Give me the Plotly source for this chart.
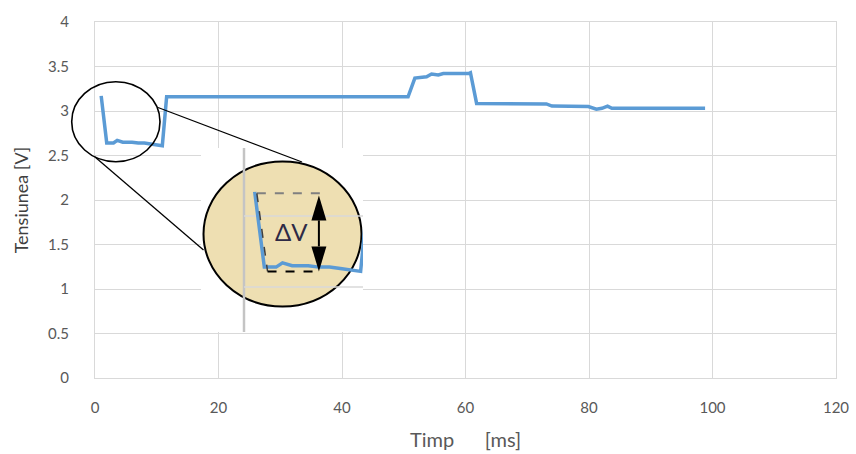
import plotly.graph_objects as go

# Voltage trace (time in ms, voltage in V)
time_ms = [1.0, 1.9, 3.0, 3.6, 4.5, 6.0, 7.0, 8.0, 9.0, 10.0, 10.9, 11.6,
           50.7, 51.8, 53.7, 54.5, 55.6, 56.4, 60.5, 60.8, 61.8,
           73.1, 74.0, 79.9, 81.2, 82.1, 83.0, 83.7, 98.8]
voltage = [3.17, 2.64, 2.64, 2.67, 2.65, 2.65, 2.64, 2.64, 2.63, 2.62, 2.61, 3.16,
           3.16, 3.37, 3.385, 3.415, 3.405, 3.42, 3.42, 3.43, 3.085,
           3.08, 3.055, 3.05, 3.02, 3.03, 3.055, 3.03, 3.03]

x_ticks = [0, 20, 40, 60, 80, 100, 120]
x_labels = ["0", "20", "40", "60", "80", "100", "120"]
y_ticks = [0, 0.5, 1, 1.5, 2, 2.5, 3, 3.5, 4]
y_labels = ["0", "0.5", "1", "1.5", "2", "2.5", "3", "3.5", "4"]

LINE_BLUE = "#5B9BD5"
GRID = "#D9D9D9"
TEXT = "#595959"
TAN = "#EEDFB2"
FONT = "Lato, 'Open Sans', sans-serif"

# figure geometry (pixels)
W, H = 856, 454
ML, MR, MT, MB = 95, 20, 22, 76
PW = W - ML - MR
PH = H - MT - MB


def px(x):
    return (x - ML) / PW


def py(y):
    return (H - MB - y) / PH


# magnified view: pixel <-> inset data units
IX0, ISX = 244.0, 10.7      # pixel of t=0, pixels per ms
IY3, ISY = 216.0, 142.0     # pixel of 3.0 V, pixels per volt


def ix(p):
    return (p - IX0) / ISX


def iy(p):
    return 3.0 + (IY3 - p) / ISY


BOX = dict(left=201, right=363, top=148, bottom=332)

fig = go.Figure()

fig.add_trace(go.Scatter(
    x=time_ms, y=voltage, mode="lines",
    line=dict(color=LINE_BLUE, width=3.5),
    xaxis="x", yaxis="y", showlegend=False, hoverinfo="skip"))

# magnified copy of the same trace
fig.add_trace(go.Scatter(
    x=time_ms, y=voltage, mode="lines",
    line=dict(color=LINE_BLUE, width=3.5),
    xaxis="x2", yaxis="y2", showlegend=False, hoverinfo="skip"))

v_start = voltage[0]
v_low = min(voltage[:11])
t_drop = time_ms[1]
t_arrow = 7.0

shapes = []
# inset background and tan lens
shapes.append(dict(type="rect", xref="x2", yref="y2",
                   x0=ix(BOX["left"]), x1=ix(BOX["right"]),
                   y0=iy(BOX["bottom"]), y1=iy(BOX["top"]),
                   fillcolor="white", line=dict(width=0), layer="below"))
shapes.append(dict(type="circle", xref="x2", yref="y2",
                   x0=ix(203.5), x1=ix(361.5), y0=iy(306.5), y1=iy(161.5),
                   fillcolor=TAN, line=dict(color="black", width=2), layer="below"))
# inset grid
shapes.append(dict(type="line", xref="x2", yref="y2", x0=0, x1=0,
                   y0=iy(BOX["bottom"]), y1=iy(BOX["top"]),
                   line=dict(color="#C4C4C4", width=2.5), layer="between"))
for gv in (3.0, 2.5):
    shapes.append(dict(type="line", xref="x2", yref="y2", x0=0, x1=ix(BOX["right"]),
                       y0=gv, y1=gv, line=dict(color=GRID, width=1.5), layer="between"))
# delta-V guide lines
shapes.append(dict(type="line", xref="x2", yref="y2", x0=time_ms[0] + 0.2, x1=t_arrow + 0.3,
                   y0=v_start - 0.01, y1=v_start - 0.01,
                   line=dict(color="#808080", width=2, dash="dash"), layer="above"))
shapes.append(dict(type="line", xref="x2", yref="y2", x0=time_ms[0] + 0.2, x1=t_drop + 0.3,
                   y0=v_start - 0.01, y1=v_low,
                   line=dict(color="#404040", width=1.5, dash="dash"), layer="above"))
shapes.append(dict(type="line", xref="x2", yref="y2", x0=t_drop + 0.3, x1=t_arrow,
                   y0=v_low, y1=v_low,
                   line=dict(color="black", width=2, dash="dash"), layer="above"))
# double-headed arrow
head_h = 25 / ISY
head_w = 7.5 / ISX
tip_top = v_start - 0.025
tip_bot = v_low
shapes.append(dict(type="line", xref="x2", yref="y2", x0=t_arrow, x1=t_arrow,
                   y0=tip_bot + head_h, y1=tip_top - head_h,
                   line=dict(color="black", width=2), layer="above"))
shapes.append(dict(type="path", xref="x2", yref="y2",
                   path=f"M {t_arrow},{tip_top} L {t_arrow - head_w},{tip_top - head_h} "
                        f"L {t_arrow + head_w},{tip_top - head_h} Z",
                   fillcolor="black", line=dict(width=0), layer="above"))
shapes.append(dict(type="path", xref="x2", yref="y2",
                   path=f"M {t_arrow},{tip_bot} L {t_arrow - head_w},{tip_bot + head_h} "
                        f"L {t_arrow + head_w},{tip_bot + head_h} Z",
                   fillcolor="black", line=dict(width=0), layer="above"))
# small lens on the main trace and its connectors
shapes.append(dict(type="circle", xref="paper", yref="paper",
                   x0=px(71.7), x1=px(160), y0=py(161.7), y1=py(81.7),
                   line=dict(color="black", width=1.6), layer="above"))
shapes.append(dict(type="line", xref="paper", yref="paper",
                   x0=px(158), y0=py(107.5), x1=px(302), y1=py(162),
                   line=dict(color="black", width=1.3), layer="above"))
shapes.append(dict(type="line", xref="paper", yref="paper",
                   x0=px(95), y0=py(157), x1=px(203.5), y1=py(250),
                   line=dict(color="black", width=1.3), layer="above"))

NB = "\u00a0"

fig.update_layout(
    width=W, height=H,
    margin=dict(l=ML, r=MR, t=MT, b=MB, autoexpand=False),
    paper_bgcolor="white", plot_bgcolor="white",
    font=dict(family=FONT, color=TEXT, size=15),
    shapes=shapes,
    xaxis=dict(
        range=[0, 120], tickvals=x_ticks, ticktext=x_labels,
        showgrid=True, gridcolor=GRID, gridwidth=1,
        showline=True, linecolor=GRID, linewidth=1, mirror=True,
        zeroline=False, ticks="", ticklabelstandoff=16,
        tickfont=dict(size=15, color=TEXT),
        title=dict(text="Timp" + NB * 6 + "[ms]", font=dict(size=20, color=TEXT), standoff=17),
    ),
    yaxis=dict(
        range=[0, 4], tickvals=y_ticks, ticktext=y_labels,
        showgrid=True, gridcolor=GRID, gridwidth=1,
        showline=True, linecolor=GRID, linewidth=1, mirror=True,
        zeroline=False, ticks="", ticklabelstandoff=22,
        tickfont=dict(size=15, color=TEXT),
        title=dict(text="Tensiunea [V]", font=dict(size=18, color="#404040"), standoff=14),
    ),
    xaxis2=dict(domain=[px(BOX["left"]), px(BOX["right"])],
                range=[ix(BOX["left"]), ix(BOX["right"])],
                visible=False, anchor="y2"),
    yaxis2=dict(domain=[py(BOX["bottom"]), py(BOX["top"])],
                range=[iy(BOX["bottom"]), iy(BOX["top"])],
                visible=False, anchor="x2"),
    annotations=[dict(xref="x2", yref="y2", x=ix(291.5), y=iy(231),
                      text="\u0394V", showarrow=False,
                      font=dict(family=FONT, size=24, color="#2E2A45"))],
)

fig.write_html("out.html")
